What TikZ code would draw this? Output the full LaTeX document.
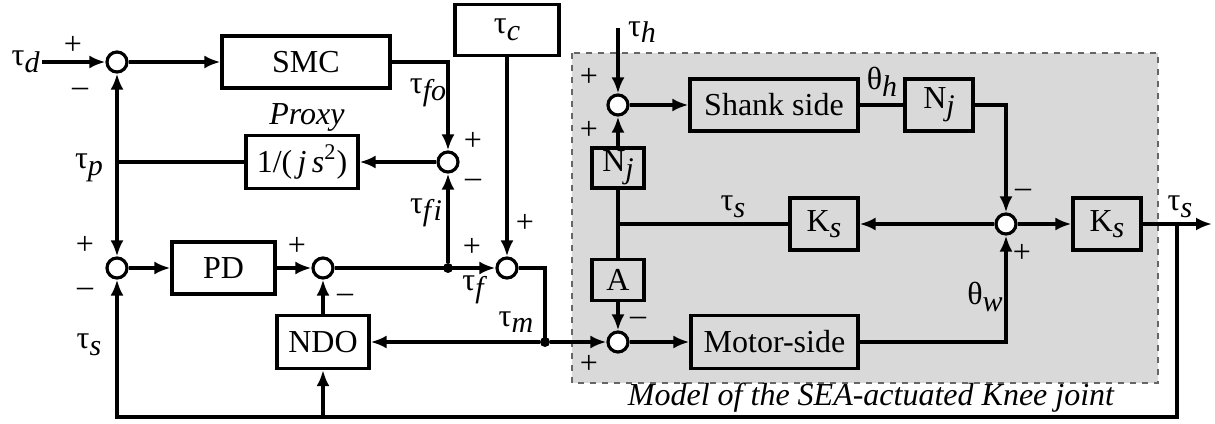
\documentclass[tikz,border=0pt]{standalone}
\usepackage{fontspec}
\setmainfont{Liberation Serif}
\usetikzlibrary{arrows.meta, positioning, backgrounds}
\newcommand{\lsub}[1]{\raisebox{-0.45ex}{\fontsize{15}{16}\selectfont\itshape #1}}
\tikzset{
  blk/.style={draw, line width=1.6pt, inner sep=1pt},
  sumj/.style={draw, circle, fill=white, line width=1.6pt, minimum size=10pt, inner sep=0pt},
  sig/.style={line width=1.6pt},
  arr/.style={sig, -{Latex[length=8pt,width=6.5pt]}},
  dotj/.style={circle, fill, minimum size=5pt, inner sep=0pt},
  lbl/.style={inner sep=1pt}
}
\begin{document}
\begin{tikzpicture}[x=0.5pt, y=-0.5pt, font=\fontsize{16}{18}\selectfont]
    \useasboundingbox (0,0) rectangle (1215,423);
    % SEA model area
    \draw[dashed, black!60, line width=0.6pt, fill=black!15] (572,53) rectangle (1158,383);
    \node[font=\fontsize{16}{18}\selectfont\itshape] (mlbl) at (871,398) {Model of the SEA-actuated Knee joint};

    % controller blocks
    \node[blk, minimum width=84pt, minimum height=26pt] (smc) at (306,62) {SMC};
    \node[blk, minimum width=56pt, minimum height=26.5pt] (proxy) at (302,162) {1/(\,\textit{j\,s}\textsuperscript{2})};
    \node[font=\fontsize{16}{18}\selectfont\itshape] (plbl) at (307,117) {Proxy};
    \node[blk, minimum width=52pt, minimum height=25.5pt] (tauc) at (507,30) {τ\lsub{c}};
    \node[blk, minimum width=51.5pt, minimum height=26pt] (pd) at (223.5,268) {PD};
    \node[blk, minimum width=46pt, minimum height=26.5pt] (ndo) at (323,342) {NDO};

    % plant blocks
    \node[blk, fill=black!15, minimum width=84pt, minimum height=26pt] (shank) at (774,105) {Shank side};
    \node[blk, fill=black!15, minimum width=34pt, minimum height=26pt] (njt) at (939,105) {N\lsub{j}};
    \node[blk, fill=black!15, minimum width=34pt, minimum height=26pt] (ksl) at (824,224) {K\lsub{s}};
    \node[blk, fill=black!15, minimum width=34pt, minimum height=26pt] (ksr) at (1107,224) {K\lsub{s}};
    \node[blk, fill=black!15, minimum width=26pt, minimum height=20pt] (njl) at (618,168) {N\lsub{j}};
    \node[blk, fill=black!15, minimum width=26pt, minimum height=20.5pt] (amat) at (618,280) {A};
    \node[blk, fill=black!15, minimum width=83.5pt, minimum height=26.5pt] (motor) at (774.5,342) {Motor-side};

    % summing junctions
    \node[sumj] (s1) at (117,62) {};
    \node[sumj] (s2) at (448,162) {};
    \node[sumj] (s3) at (117,268) {};
    \node[sumj] (s4) at (323,268) {};
    \node[sumj] (s5) at (507,268) {};
    \node[sumj] (s6) at (618,342) {};
    \node[sumj] (s7) at (618,105) {};
    \node[sumj] (s8) at (1006,224) {};

    % branch points
    \node[dotj] (jf) at (448,268) {};
    \node[dotj] (jm) at (545,342) {};
    \coordinate (tp) at (117,162);
    \coordinate (js) at (618,224);
    \coordinate (tsb) at (1177,224);
    \coordinate (out) at (1212,224);
    \coordinate (bl) at (117,417);
    \coordinate (bm) at (323,417);
    \coordinate (br) at (1177,417);
    \coordinate (hin) at (618,28);

    % signal labels
    \node[lbl, anchor=east] (taud) at (42,62) {τ\lsub{d}};
    \node[lbl] (ltp) at (89,168) {τ\lsub{p}};
    \node[lbl] (lts) at (89,345) {τ\lsub{s}};
    \node[lbl] (ltfo) at (428,93) {τ\lsub{fo}};
    \node[lbl] (ltfi) at (426,213) {τ\lsub{f\hspace{1.2pt}i}};
    \node[lbl] (ltf) at (473,290) {τ\lsub{f}};
    \node[lbl] (ltm) at (516,322) {τ\lsub{m}};
    \node[lbl] (lth) at (642,32) {τ\lsub{h}};
    \node[lbl] (lthh) at (882,82) {θ\lsub{h}};
    \node[lbl] (ltsm) at (733,207) {τ\lsub{s}};
    \node[lbl] (lthw) at (985,297) {θ\lsub{w}};
    \node[lbl] (ltso) at (1180,207) {τ\lsub{s}};

    % signs
    \node (p1) at (73,45) {+};
    \node (m1) at (80,92) {–};
    \node (p2) at (473,141) {+};
    \node (m2) at (473,183) {–};
    \node (p3) at (85,245) {+};
    \node (m3) at (85,292) {–};
    \node (p4) at (297,246) {+};
    \node (m4) at (345,298) {–};
    \node (p5a) at (472,247) {+};
    \node (p5b) at (525,223) {+};
    \node (m6) at (638,321) {–};
    \node (p6) at (589,364) {+};
    \node (p7a) at (589,77) {+};
    \node (p7b) at (589,130) {+};
    \node (m8) at (1023,193) {–};
    \node (p8) at (1022,253) {+};

    % controller connections
    \draw[arr] (taud) -- (s1);
    \draw[arr] (s1) -- (smc);
    \draw[arr] (smc) -| (s2);
    \draw[arr] (s2) -- (proxy);
    \draw[sig] (proxy) -- (tp);
    \draw[arr] (tp) -- (s1);
    \draw[arr] (tp) -- (s3);
    \draw[arr] (s3) -- (pd);
    \draw[arr] (pd) -- (s4);
    \draw[arr] (s4) -- (s5);
    \draw[arr] (jf) -- (s2);
    \draw[arr] (tauc) -- (s5);
    \draw[sig] (s5.east) -| (jm.center);
    \draw[arr] (jm) -- (ndo);
    \draw[arr] (jm) -- (s6);
    \draw[arr] (ndo) -- (s4);

    % plant connections
    \draw[arr] (hin) -- (s7);
    \draw[arr] (s7) -- (shank);
    \draw[sig] (shank) -- (njt);
    \draw[arr] (njt) -| (s8);
    \draw[arr] (s8) -- (ksl);
    \draw[arr] (s8) -- (ksr);
    \draw[sig] (ksl) -- (js) -- (njl);
    \draw[arr] (njl) -- (s7);
    \draw[sig] (js) -- (amat);
    \draw[arr] (amat) -- (s6);
    \draw[arr] (s6) -- (motor);
    \draw[arr] (motor) -| (s8);

    % output and feedback
    \draw[arr] (ksr) -- (out);
    \draw[arr] (tsb) -- (br) -- (bl) -- (s3);
    \draw[arr] (bm) -- (ndo);
\end{tikzpicture}
\end{document}
